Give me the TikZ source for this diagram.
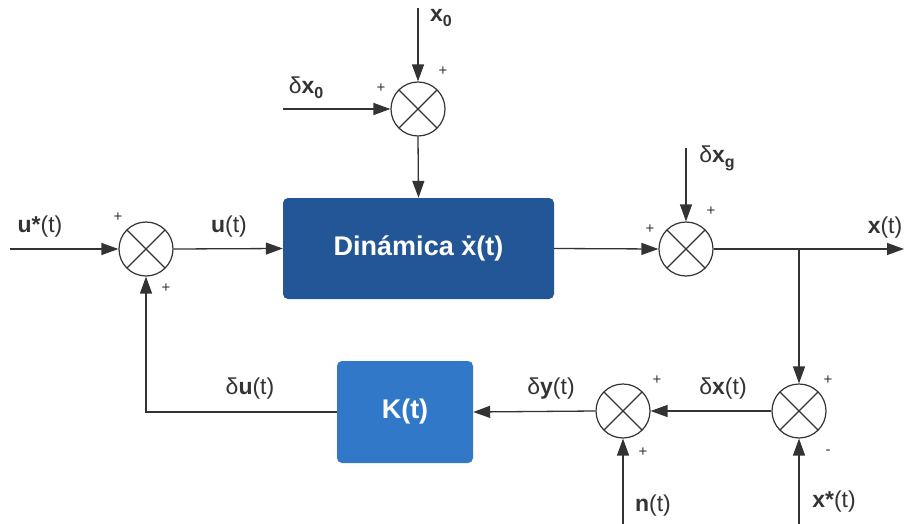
\documentclass[tikz,border=0pt]{standalone}
\usepackage{fontspec}
\setmainfont{Liberation Sans}
\usetikzlibrary{arrows.meta}
\definecolor{dynblue}{RGB}{35,86,150}
\definecolor{kblue}{RGB}{49,120,200}
\definecolor{ln}{RGB}{51,51,51}
\newcommand{\subb}[1]{\raisebox{-0.22em}{\fontsize{16}{16}\selectfont\textbf{#1}}}
\begin{document}
\begin{tikzpicture}[x=1pt,y=-1pt,
  >={Triangle[length=17pt,width=12pt]},
  conn/.style={draw=ln,line width=1.3pt},
  sumj/.style={circle,draw=ln,line width=1.2pt,minimum size=54pt,inner sep=0pt,fill=white,
    path picture={\draw[ln,line width=1.1pt] (path picture bounding box.center) ++(45:27pt) -- ++(225:54pt);
                  \draw[ln,line width=1.1pt] (path picture bounding box.center) ++(135:27pt) -- ++(315:54pt);}},
  blk/.style={rounded corners=5pt,text=white,font=\fontsize{27}{30}\selectfont\bfseries,inner sep=0pt},
  lbl/.style={text=ln,font=\fontsize{23}{26}\selectfont,inner sep=0pt},
  sgn/.style={text=ln,font=\fontsize{15}{16}\selectfont,inner sep=0pt}
]
\useasboundingbox (0,0) rectangle (904,524);
% blocks
\node[blk,fill=dynblue,minimum width=271pt,minimum height=101pt] (dyn) at (418.5,248.5) {Dinámica \.{x}(t)};
\node[blk,fill=kblue,minimum width=136pt,minimum height=102pt] (K) at (405,412) {K(t)};
% summing junctions
\node[sumj] (s0) at (418,109) {};
\node[sumj] (s1) at (146,249) {};
\node[sumj] (s2) at (686,249) {};
\node[sumj] (s3) at (799,411) {};
\node[sumj] (s4) at (623,411) {};
% free ends
\coordinate (inx0) at (418,8);
\coordinate (indx0) at (283,109);
\coordinate (inu) at (10,249);
\coordinate (indxg) at (686,148);
\coordinate (outx) at (904,249);
\coordinate (br) at (799,249);
\coordinate (inxs) at (799,524);
\coordinate (inn) at (623,524);
% connectors
\draw[conn,->] (inx0) -- (s0.north);
\draw[conn,->] (indx0) -- (s0.west);
\draw[conn,->] (s0.south) -- (dyn.north);
\draw[conn,->] (inu) -- (s1.west);
\draw[conn,->] (s1.east) -- (dyn.west);
\draw[conn,->] (dyn.east) -- (s2.west);
\draw[conn,->] (indxg) -- (s2.north);
\draw[conn,->] (s2.east) -- (outx);
\draw[conn,->] (br) -- (s3.north);
\draw[conn,->] (inxs) -- (s3.south);
\draw[conn,->] (s3.west) -- (s4.east);
\draw[conn,->] (inn) -- (s4.south);
\draw[conn,->] (s4.west) -- (K.east);
\draw[conn,->] (K.west) -| (s1.south);
% labels
\node[lbl] (lx0) at (441,18) {\textbf{x}\subb{0}};
\node[lbl] (ldx0) at (306,88) {δ\textbf{x}\subb{0}};
\node[lbl] (ldxg) at (717,158) {δ\textbf{x}\subb{g}};
\node[lbl] (lus) at (40,227) {\textbf{u*}(t)};
\node[lbl] (lu) at (229,227) {\textbf{u}(t)};
\node[lbl] (lx) at (885,228) {\textbf{x}(t)};
\node[lbl] (ldu) at (250,389) {δ\textbf{u}(t)};
\node[lbl] (ldy) at (551,389) {δ\textbf{y}(t)};
\node[lbl] (ldx) at (723,389) {δ\textbf{x}(t)};
\node[lbl] (ln) at (653,506) {\textbf{n}(t)};
\node[lbl] (lxs) at (834,502) {\textbf{x*}(t)};
% signs
\node[sgn] at (443,71) {+};
\node[sgn] at (381,88) {+};
\node[sgn] at (118,217) {+};
\node[sgn] at (166,288) {+};
\node[sgn] at (650,229) {+};
\node[sgn] at (711,211) {+};
\node[sgn] at (828,380) {+};
\node[sgn] at (828,452) {-};
\node[sgn] at (657,380) {+};
\node[sgn] at (643,452) {+};
\end{tikzpicture}
\end{document}
